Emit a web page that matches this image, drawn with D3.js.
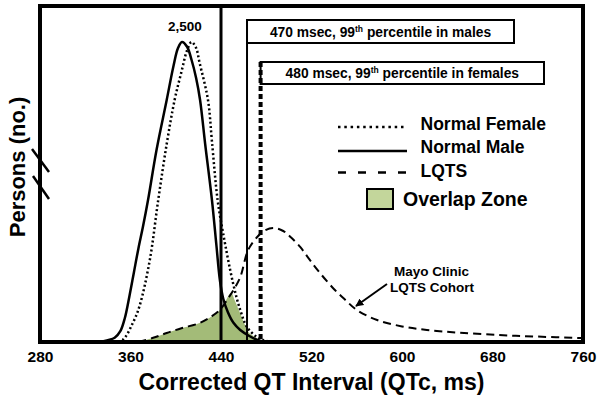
<!DOCTYPE html>
<html><head><meta charset="utf-8">
<script src="https://cdn.jsdelivr.net/npm/d3@7"></script>
<style>
body{margin:0;background:#fff}
svg{display:block}
text{font-family:"Liberation Sans",Arial,sans-serif;font-weight:bold;fill:#000}
</style>
</head><body>
<svg id="c" width="601" height="401"></svg>
<script>
// ---- data ----
const xTicks = [280, 360, 440, 520, 600, 680, 760];
const maleQTc   = [333, 340, 346, 351, 355, 359, 363, 367, 371, 375.5, 383, 392, 398, 402, 405.5, 410, 414, 418, 421.5, 426, 432, 436, 439, 442, 446, 451, 457, 465, 472, 480];
const maleCount = [0, 15, 35, 90, 200, 380, 580, 780, 960, 1183, 1600, 2017, 2300, 2450, 2500, 2460, 2350, 2200, 2017, 1650, 1183, 800, 517, 360, 250, 160, 100, 50, 18, 0];
const femaleQTc   = [345, 353, 362, 368, 377, 384.5, 392, 399, 405, 410, 414, 418, 421, 428.5, 432, 437, 442, 450.6, 457, 463, 471.5, 477, 485];
const femaleCount = [0, 17, 158, 300, 680, 1183, 1650, 2017, 2250, 2430, 2500, 2450, 2330, 2017, 1670, 1183, 900, 492, 267, 125, 42, 17, 0];
const lqtsQTc   = [367, 380, 392, 405, 421, 432, 439, 446, 451, 457, 464, 472, 478, 486, 495, 502, 510, 518, 527.5, 540, 550, 560, 578, 600, 622, 650, 686, 720, 759];
const lqtsCount = [0, 35, 75, 115, 158, 215, 267, 360, 433, 540, 767, 875, 925, 950, 925, 870, 792, 690, 575, 440, 350, 267, 183, 130, 100, 78, 58, 45, 33];
const overlapQTc   = [367, 380, 392, 405, 421, 432, 439, 444, 449, 452, 456, 460, 463, 467, 471.5, 477];
const overlapCount = [0, 35, 75, 115, 158, 215, 267, 340, 410, 350, 260, 170, 100, 60, 33, 0];
const peakLabel = "2,500";
const cutoffMale = 463, cutoffFemale = 475, refLine = 440;
const boxMaleText = ["470 msec, 99", "th", " percentile in males"];
const boxFemaleText = ["480 msec, 99", "th", " percentile in females"];
const legendLabels = ["Normal Female", "Normal Male", "LQTS", "Overlap Zone"];
const cohortLabel = ["Mayo Clinic", "LQTS Cohort"];
const xTitle = "Corrected QT Interval (QTc, ms)";
const yTitle = "Persons (no.)";

// ---- drawing ----
const svg = d3.select("#c");
const x = d3.scaleLinear().domain([280, 760]).range([40, 583]);
const y = d3.scaleLinear().domain([0, 2500]).range([342, 42]);
const toPts = (xs, ys) => xs.map((v, i) => [v, ys[i]]);
const curve = d3.curveCatmullRom.alpha(0.5);
const line = d3.line().x(d => x(d[0])).y(d => Math.min(y(0), y(d[1]))).curve(curve);
const area = d3.area().x(d => x(d[0])).y0(y(0)).y1(d => y(d[1])).curve(d3.curveMonotoneX);

// overlap fill
svg.append("path").attr("d", area(toPts(overlapQTc, overlapCount)))
  .attr("fill", "#a3bb78");

// curves
svg.append("path").attr("d", line(toPts(lqtsQTc, lqtsCount)))
  .attr("fill", "none").attr("stroke", "#000").attr("stroke-width", 2)
  .attr("stroke-dasharray", "8,5");
svg.append("path").attr("d", line(toPts(femaleQTc, femaleCount)))
  .attr("fill", "none").attr("stroke", "#000").attr("stroke-width", 2.5)
  .attr("stroke-dasharray", "2,2.5");
svg.append("path").attr("d", line(toPts(maleQTc, maleCount)))
  .attr("fill", "none").attr("stroke", "#000").attr("stroke-width", 2.5);

// vertical reference lines
svg.append("line").attr("x1", x(refLine)).attr("x2", x(refLine)).attr("y1", 6).attr("y2", 342)
  .attr("stroke", "#000").attr("stroke-width", 3);
svg.append("line").attr("x1", x(cutoffMale)).attr("x2", x(cutoffMale)).attr("y1", 20).attr("y2", 342)
  .attr("stroke", "#000").attr("stroke-width", 2);

// boxes
svg.append("rect").attr("x", x(cutoffMale)).attr("y", 20).attr("width", 514 - x(cutoffMale)).attr("height", 23)
  .attr("fill", "#fff").attr("stroke", "#000").attr("stroke-width", 2);
svg.append("rect").attr("x", x(cutoffFemale)).attr("y", 62).attr("width", 544 - x(cutoffFemale)).attr("height", 22)
  .attr("fill", "#fff").attr("stroke", "#000").attr("stroke-width", 2);
svg.append("line").attr("x1", x(cutoffFemale)).attr("x2", x(cutoffFemale)).attr("y1", 62).attr("y2", 342)
  .attr("stroke", "#000").attr("stroke-width", 4).attr("stroke-dasharray", "5,3");

function boxText(parts, cx, by) {
  const t = svg.append("text").attr("x", cx).attr("y", by).attr("text-anchor", "middle")
    .style("font-size", "13.8px");
  t.append("tspan").text(parts[0]);
  t.append("tspan").text(parts[1]).attr("dy", -5).style("font-size", "8.5px");
  t.append("tspan").text(parts[2]).attr("dy", 5);
}
boxText(boxMaleText, (x(cutoffMale) + 514) / 2, 37);
boxText(boxFemaleText, (x(cutoffFemale) + 544) / 2, 78);

// peak label
svg.append("text").attr("x", 185).attr("y", 31).attr("text-anchor", "middle")
  .style("font-size", "13.5px").text(peakLabel);

// frame
svg.append("rect").attr("x", 40).attr("y", 6).attr("width", 543).attr("height", 336)
  .attr("fill", "none").attr("stroke", "#000").attr("stroke-width", 4);

// axis break marks
[[32, 149, 49, 172], [33, 176, 49, 199]].forEach(b => {
  svg.append("line").attr("x1", b[0]).attr("y1", b[1]).attr("x2", b[2]).attr("y2", b[3])
    .attr("stroke", "#000").attr("stroke-width", 2.5);
});

// x axis labels
const ax = svg.append("g").attr("transform", "translate(0,342)")
  .call(d3.axisBottom(x).tickValues(xTicks).tickSize(0).tickPadding(0).tickFormat(d3.format("d")));
ax.select(".domain").remove();
ax.selectAll("text").attr("y", 20).attr("dy", 0)
  .style("font-size", "15.5px").style("font-family", "'Liberation Sans',Arial,sans-serif")
  .style("font-weight", "bold").attr("fill", "#000");

// titles
svg.append("text").attr("x", 311.5).attr("y", 390).attr("text-anchor", "middle")
  .style("font-size", "23px").text(xTitle);
svg.append("text").attr("transform", "translate(25,167) rotate(-90)").attr("text-anchor", "middle")
  .style("font-size", "22px").text(yTitle);

// legend
const lg = svg.append("g");
lg.append("line").attr("x1", 338).attr("x2", 407).attr("y1", 127).attr("y2", 127)
  .attr("stroke", "#000").attr("stroke-width", 2.5).attr("stroke-dasharray", "2.5,3.8");
lg.append("line").attr("x1", 338).attr("x2", 407).attr("y1", 151).attr("y2", 151)
  .attr("stroke", "#000").attr("stroke-width", 2.5);
lg.append("line").attr("x1", 338).attr("x2", 407).attr("y1", 172.5).attr("y2", 172.5)
  .attr("stroke", "#000").attr("stroke-width", 2.5).attr("stroke-dasharray", "8,12");
lg.append("rect").attr("x", 367).attr("y", 189).attr("width", 26).attr("height", 20)
  .attr("fill", "#c3d69b").attr("stroke", "#000").attr("stroke-width", 2);
[[legendLabels[0], 130], [legendLabels[1], 153.3], [legendLabels[2], 176.7]].forEach(d => {
  lg.append("text").attr("x", 420.5).attr("y", d[1]).style("font-size", "17.5px").text(d[0]);
});
lg.append("text").attr("x", 403).attr("y", 206).style("font-size", "19.5px").text(legendLabels[3]);

// cohort annotation
svg.append("text").attr("x", 431.5).attr("y", 275.5).attr("text-anchor", "middle")
  .style("font-size", "13.5px").text(cohortLabel[0]);
svg.append("text").attr("x", 432).attr("y", 291.5).attr("text-anchor", "middle")
  .style("font-size", "13.5px").text(cohortLabel[1]);
svg.append("defs").append("marker").attr("id", "ah").attr("viewBox", "0 0 10 10")
  .attr("refX", 9).attr("refY", 5).attr("markerWidth", 4).attr("markerHeight", 4)
  .attr("orient", "auto").append("path").attr("d", "M0,0L10,5L0,10z").attr("fill", "#000");
svg.append("line").attr("x1", 387).attr("y1", 284).attr("x2", 356).attr("y2", 306)
  .attr("stroke", "#000").attr("stroke-width", 2).attr("marker-end", "url(#ah)");
</script>
</body></html>
